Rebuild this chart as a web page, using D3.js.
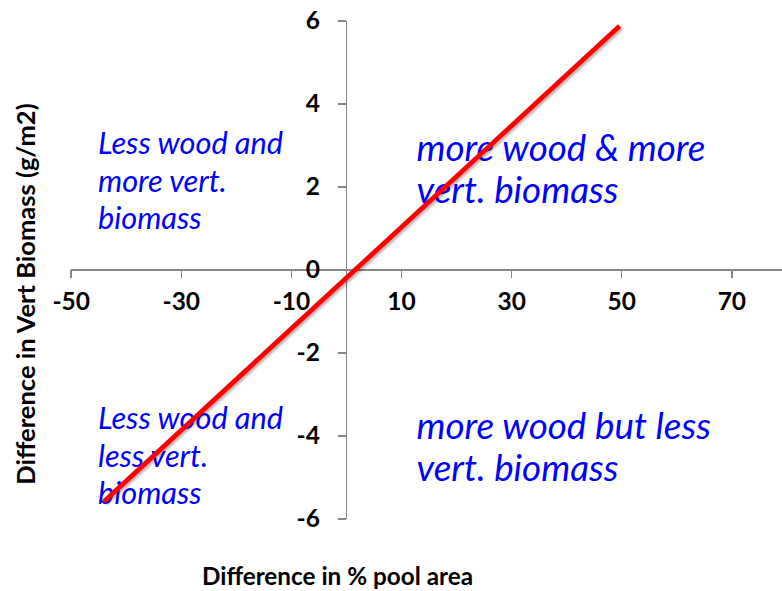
<!DOCTYPE html>
<html>
<head>
<meta charset="utf-8">
<script src="https://cdn.jsdelivr.net/npm/d3@7"></script>
<style>
  html, body { margin: 0; padding: 0; background: #fff; }
  svg { display: block; }
  .axis path, .axis line { stroke: #878787; stroke-width: 1.5; shape-rendering: crispEdges; }
  .axis text { font-family: Lato, "Noto Sans", sans-serif; font-weight: 700; font-size: 24.5px; fill: #000; }
  .title { font-family: Lato, "Noto Sans", sans-serif; font-weight: 700; font-size: 24.3px; fill: #000; }
  .note { font-family: Lato, "Noto Sans", sans-serif; font-style: italic; fill: #0000ff; }
</style>
</head>
<body>
<script>
// Axis ticks
const xTicks = [-50, -30, -10, 10, 30, 50, 70];
const yTicks = [-6, -4, -2, 0, 2, 4, 6];

// Fitted trend line (difference in % pool area vs difference in vertebrate biomass)
const lineX = [-44, 49.7];
const lineY = [-5.59, 5.87];

// Quadrant captions
const noteUpperLeft  = ["Less wood and", "more vert.", "biomass"];
const noteUpperRight = ["more wood & more", "vert. biomass"];
const noteLowerLeft  = ["Less wood and", "less vert.", "biomass"];
const noteLowerRight = ["more wood but less", "vert. biomass"];

const xTitle = "Difference in % pool area";
const yTitle = "Difference in Vert Biomass (g/m2)";

const W = 782, H = 591;
const svg = d3.select("body").append("svg").attr("width", W).attr("height", H);

const defs = svg.append("defs");
const f = defs.append("filter").attr("id", "shadow")
  .attr("x", "-10%").attr("y", "-10%").attr("width", "130%").attr("height", "130%");
f.append("feDropShadow").attr("dx", 1.8).attr("dy", 1.8).attr("stdDeviation", 1.3)
  .attr("flood-color", "#000").attr("flood-opacity", 0.3);

const x = d3.scaleLinear().domain([-50, 80]).range([70.7, 786.4]);
const y = d3.scaleLinear().domain([-6, 6]).range([518.7, 20.7]);

// Horizontal axis through y = 0
svg.append("g").attr("class", "axis")
  .attr("transform", `translate(0,${y(0)})`)
  .call(d3.axisBottom(x).tickValues(xTicks).tickSize(8).tickSizeOuter(0)
    .tickPadding(15).tickFormat(d => String(d)));

// Vertical axis through x = 0
svg.append("g").attr("class", "axis")
  .attr("transform", `translate(${x(0)},0)`)
  .call(d3.axisLeft(y).tickValues(yTicks).tickSize(8).tickSizeOuter(0)
    .tickPadding(18).tickFormat(d => String(d)));

// Captions
function caption(lines, px, py, size, gap) {
  const t = svg.append("text").attr("class", "note")
    .attr("x", px).attr("y", py).style("font-size", size + "px");
  lines.forEach((s, i) => {
    t.append("tspan").attr("x", px).attr("y", py + i * gap).text(s);
  });
}
caption(noteUpperLeft, 98, 154, 30.7, 37.5);
caption(noteUpperRight, 416.5, 161, 36.8, 42);
caption(noteLowerLeft, 98, 429, 30.7, 37.5);
caption(noteLowerRight, 416.5, 439, 36.8, 42);

// Trend line
const pts = lineX.map((v, i) => [v, lineY[i]]);
svg.append("path")
  .attr("d", d3.line().x(d => x(d[0])).y(d => y(d[1]))(pts))
  .attr("fill", "none").attr("stroke", "#ff0000").attr("stroke-width", 4.8)
  .attr("filter", "url(#shadow)");

// Axis titles
svg.append("text").attr("class", "title")
  .attr("x", 337.5).attr("y", 585).attr("text-anchor", "middle").text(xTitle);
svg.append("text").attr("class", "title")
  .style("font-size", "25.5px")
  .attr("transform", "translate(35,294) rotate(-90)")
  .attr("text-anchor", "middle").text(yTitle);
</script>
</body>
</html>
